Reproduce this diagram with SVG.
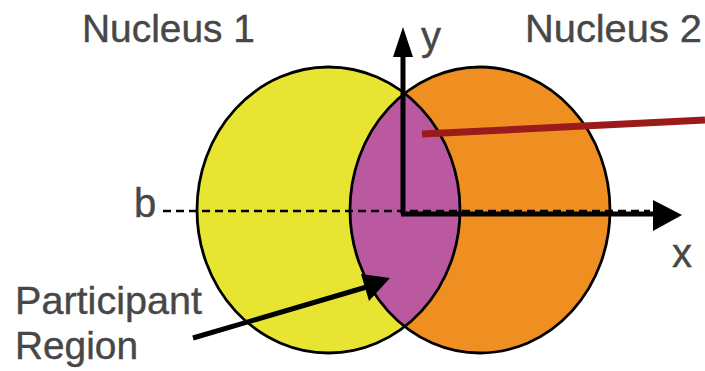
<svg xmlns="http://www.w3.org/2000/svg" width="705" height="371" viewBox="0 0 705 371">
  <style>
    .lbl { font-family: "Liberation Sans", Arial, sans-serif; fill: #474747; stroke: #474747; stroke-width: 0.4; }
    .big { font-size: 39px; }
    .ax { font-size: 40px; }
    .outline { fill: none; stroke: #000; stroke-width: 2.8; }
    .blk { stroke: #000; stroke-width: 5; fill: none; }
  </style>
  <defs>
    <clipPath id="clipLeft">
      <ellipse cx="328.5" cy="210" rx="131.5" ry="143"/>
    </clipPath>
  </defs>
  <rect width="705" height="371" fill="#fff"/>

  <g id="nucleus1">
    <ellipse cx="328.5" cy="210" rx="131.5" ry="143" fill="#E8E432"/>
  </g>
  <g id="nucleus2">
    <ellipse cx="480" cy="210" rx="130" ry="143" fill="#EF8F22"/>
  </g>
  <g id="participant-region">
    <ellipse cx="480" cy="210" rx="130" ry="143" fill="#BA58A0" clip-path="url(#clipLeft)"/>
  </g>
  <g id="outlines">
    <ellipse class="outline" cx="328.5" cy="210" rx="131.5" ry="143"/>
    <ellipse class="outline" cx="480" cy="210" rx="130" ry="143"/>
  </g>

  <g id="connectors">
    <line x1="163" y1="211" x2="650" y2="211" stroke="#000" stroke-width="2.5" stroke-dasharray="8,5"/>
    <line class="blk" x1="403" y1="214" x2="403" y2="55"/>
    <polygon points="403,27 393,57 413,57" fill="#000"/>
    <line class="blk" x1="401" y1="214" x2="656" y2="214"/>
    <polygon points="682,215 653,200 653,231" fill="#000"/>
    <line class="blk" x1="193" y1="338" x2="370" y2="286"/>
    <polygon points="390,278 361,274 369,301" fill="#000"/>
    <line x1="422" y1="134" x2="705" y2="120" stroke="#9B1B1B" stroke-width="7"/>
  </g>

  <g id="labels">
    <text class="lbl big" x="82" y="42" textLength="173" lengthAdjust="spacingAndGlyphs">Nucleus 1</text>
    <text class="lbl big" x="525" y="42" textLength="177" lengthAdjust="spacingAndGlyphs">Nucleus 2</text>
    <text class="lbl ax" x="421" y="50">y</text>
    <text class="lbl ax" x="672" y="267">x</text>
    <text class="lbl ax" x="134" y="217">b</text>
    <text class="lbl big" x="15" y="314" textLength="187" lengthAdjust="spacingAndGlyphs">Participant</text>
    <text class="lbl big" x="15" y="359" textLength="123" lengthAdjust="spacingAndGlyphs">Region</text>
  </g>
</svg>
